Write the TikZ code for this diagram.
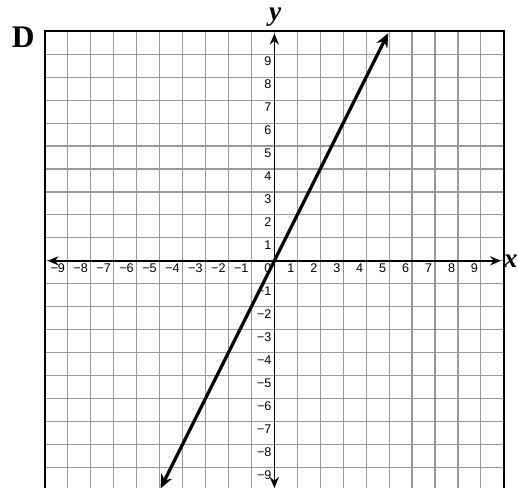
\documentclass[tikz,border=0pt]{standalone}
\usepackage{fontspec}
\setmainfont{Liberation Serif}
\setsansfont{Liberation Sans}
\usetikzlibrary{arrows.meta}

\begin{document}
\begin{tikzpicture}[
  x=5mm, y=5mm,
  gridline/.style={draw=gray!80, line width=0.7pt},
  frame/.style={draw=black, line width=1.1pt},
  axis/.style={{Stealth[length=2.4mm, width=2mm]}-{Stealth[length=2.4mm, width=2mm]}, line width=0.9pt},
  graphline/.style={{Stealth[length=3mm, width=2.6mm]}-{Stealth[length=3mm, width=2.6mm]}, line width=2pt},
  tick/.style={font=\sffamily\fontsize{7.8}{9}\selectfont, inner sep=1.6pt, anchor=north east},
  axlabel/.style={font=\fontsize{17}{18}\selectfont\bfseries\itshape, inner sep=0pt}
]
\useasboundingbox (-11.954,-9.856) rectangle (10.617,11.364);

% grid and frame
\draw[gridline, step=1] (-10,-10) grid (10,10);
\draw[frame] (-10,-10) rectangle (10,10);

% axes
\coordinate (xl) at (-9.88,0);
\coordinate (xr) at (9.88,0);
\coordinate (yb) at (0,-9.9);
\coordinate (yt) at (0,9.9);
\draw[axis] (xl) -- (xr);
\draw[axis] (yb) -- (yt);

% tick numbers
\foreach \i in {1,...,9} {
  \node[tick] (xp\i) at (\i,0) {\i};
  \node[tick] (xn\i) at (-\i,0) {−\i};
  \node[tick] (yp\i) at (0,\i) {\i};
  \node[tick] (yn\i) at (0,-\i) {−\i};
}
\node[tick] (zero) at (0,0) {0};

\node[axlabel] (xlab) at (10.3,-0.02) {x};
\node[axlabel] (ylab) at (0.04,10.62) {y};
\node[font=\fontsize{19.5}{20}\selectfont\bfseries, inner sep=0pt] (panel) at (-10.94,9.76) {D};

% the line y = 2x
\coordinate (lb) at (-4.96,-9.92);
\coordinate (lt) at (4.96,9.92);
\draw[graphline] (lb) -- (lt);
\end{tikzpicture}
\end{document}
